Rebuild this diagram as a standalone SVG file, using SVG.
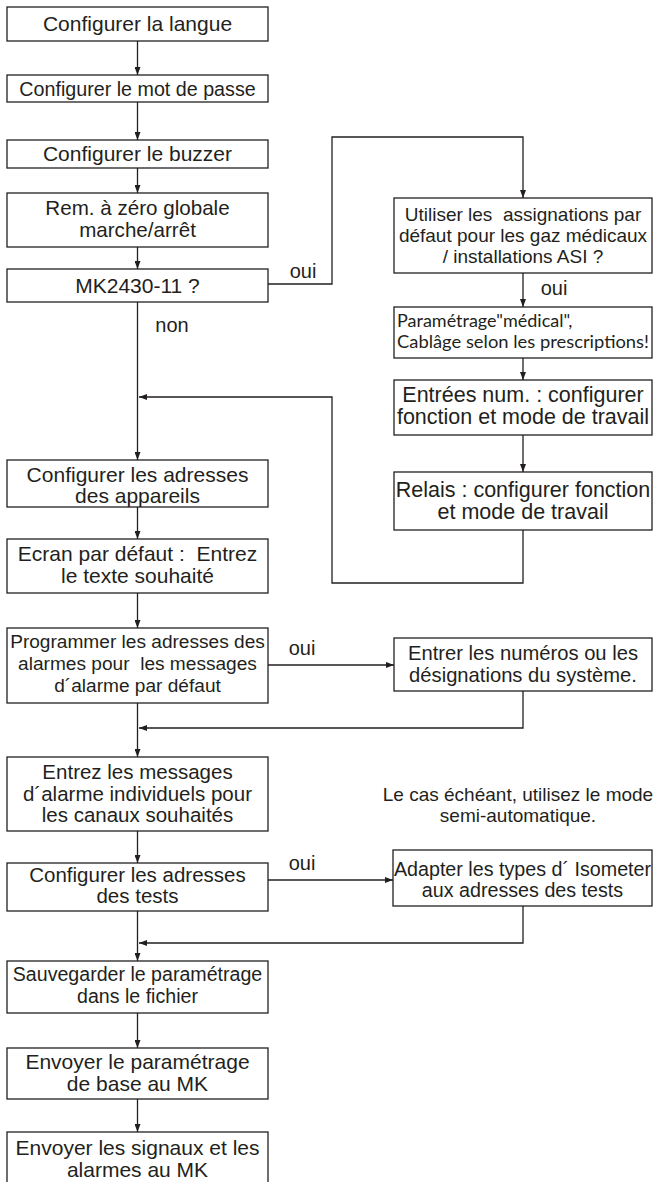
<svg xmlns="http://www.w3.org/2000/svg" width="654" height="1182" viewBox="0 0 654 1182">
<defs>
<marker id="ah" markerWidth="8" markerHeight="6" refX="8" refY="3" orient="auto" markerUnits="userSpaceOnUse">
<path d="M0,0 L8,3 L0,6 z" fill="#231f20"/>
</marker>
<style>
rect{fill:#fff;stroke:#231f20;stroke-width:1.3}
text{font-family:"Liberation Sans",Arial,sans-serif;fill:#231f20;text-anchor:middle}
.c line,.c polyline{fill:none;stroke:#231f20;stroke-width:1.3}
.a{marker-end:url(#ah)}
.lt{font-family:Lato,"Open Sans",sans-serif;text-anchor:start}
</style>
</defs>
<rect x="0" y="0" width="654" height="1182" style="fill:#fff;stroke:none"/>
<g class="c" id="connectors">
<line class="a" x1="137.5" y1="41" x2="137.5" y2="75"/>
<line class="a" x1="137.5" y1="102" x2="137.5" y2="140"/>
<line class="a" x1="137.5" y1="168" x2="137.5" y2="193"/>
<line class="a" x1="137.5" y1="247" x2="137.5" y2="269"/>
<line class="a" x1="137.5" y1="302" x2="137.5" y2="460"/>
<polyline class="a" points="268,284 332,284 332,137 523,137 523,198"/>
<line class="a" x1="523" y1="273" x2="523" y2="307"/>
<line class="a" x1="523" y1="358" x2="523" y2="380"/>
<line class="a" x1="523" y1="435" x2="523" y2="472"/>
<polyline class="a" points="523,530 523,583 332,583 332,397 139,397"/>
<line class="a" x1="137.5" y1="507" x2="137.5" y2="539"/>
<line class="a" x1="137.5" y1="593" x2="137.5" y2="628"/>
<line class="a" x1="268" y1="665" x2="394" y2="665"/>
<line class="a" x1="137.5" y1="703" x2="137.5" y2="757"/>
<polyline class="a" points="523,691 523,728 139,728"/>
<line class="a" x1="137.5" y1="831" x2="137.5" y2="863"/>
<line class="a" x1="268" y1="880" x2="393" y2="880"/>
<line class="a" x1="137.5" y1="911" x2="137.5" y2="961"/>
<polyline class="a" points="523,906 523,943 139,943"/>
<line class="a" x1="137.5" y1="1013" x2="137.5" y2="1048"/>
<line class="a" x1="137.5" y1="1099" x2="137.5" y2="1132"/>
</g>
<g id="labels">
<text x="303" y="278" font-size="20">oui</text>
<text x="554" y="295" font-size="20">oui</text>
<text x="172" y="332" font-size="20">non</text>
<text x="302" y="655" font-size="20">oui</text>
<text x="302" y="870" font-size="20">oui</text>
</g>
<g id="n1"><rect x="7" y="7" width="261" height="34"/><text x="137.5" y="31" font-size="21">Configurer la langue</text></g>
<g id="n2"><rect x="7" y="75" width="261" height="27"/><text x="137.5" y="95.5" font-size="19.7">Configurer le mot de passe</text></g>
<g id="n3"><rect x="7" y="140" width="261" height="28"/><text x="137.5" y="161" font-size="21">Configurer le buzzer</text></g>
<g id="n4"><rect x="7" y="193" width="261" height="54"/><text x="137.5" y="215" font-size="20.6">Rem. à zéro globale</text><text x="137.5" y="237" font-size="20.6">marche/arrêt</text></g>
<g id="n5"><rect x="7" y="269" width="261" height="33"/><text x="137.5" y="293" font-size="21">MK2430-11 ?</text></g>
<g id="n6"><rect x="394" y="198" width="258" height="75"/><text x="523" y="221" font-size="19" xml:space="preserve">Utiliser les  assignations par</text><text x="523" y="242" font-size="19">défaut pour les gaz médicaux</text><text x="523" y="263" font-size="19">/ installations ASI ?</text></g>
<g id="n7"><rect x="394" y="307" width="258" height="51"/><text class="lt" x="397" y="327" font-size="18">Paramétrage"médical",</text><text class="lt" x="397" y="348" font-size="18" textLength="252" lengthAdjust="spacingAndGlyphs">Cablâge selon les prescriptions!</text></g>
<g id="n8"><rect x="394" y="380" width="258" height="55"/><text x="523" y="402" font-size="21.5">Entrées num. : configurer</text><text x="523" y="424" font-size="21.5">fonction et mode de travail</text></g>
<g id="n9"><rect x="394" y="472" width="258" height="58"/><text x="523" y="497" font-size="21.5">Relais : configurer fonction</text><text x="523" y="519" font-size="21.5">et mode de travail</text></g>
<g id="n10"><rect x="7" y="460" width="261" height="47"/><text x="137.5" y="482" font-size="21">Configurer les adresses</text><text x="137.5" y="503" font-size="21">des appareils</text></g>
<g id="n11"><rect x="7" y="539" width="261" height="54"/><text x="137.5" y="561" font-size="21" xml:space="preserve">Ecran par défaut :  Entrez</text><text x="137.5" y="583" font-size="21">le texte souhaité</text></g>
<g id="n12"><rect x="7" y="628" width="261" height="75"/><text x="137.5" y="648" font-size="19.1">Programmer les adresses des</text><text x="137.5" y="670" font-size="19.1" xml:space="preserve">alarmes pour  les messages</text><text x="137.5" y="692" font-size="19.1">d´alarme par défaut</text></g>
<g id="n13"><rect x="394" y="638" width="258" height="53"/><text x="523" y="660" font-size="20.2">Entrer les numéros ou les</text><text x="523" y="682" font-size="20.2">désignations du système.</text></g>
<g id="n14"><rect x="7" y="757" width="261" height="74"/><text x="137.5" y="779" font-size="20.5">Entrez les messages</text><text x="137.5" y="801" font-size="20.5">d´alarme individuels pour</text><text x="137.5" y="822" font-size="20.5">les canaux souhaités</text></g>
<g id="note"><text x="518" y="801" font-size="19">Le cas échéant, utilisez le mode</text><text x="518" y="822" font-size="19">semi-automatique.</text></g>
<g id="n15"><rect x="7" y="863" width="261" height="48"/><text x="137.5" y="882" font-size="20.5">Configurer les adresses</text><text x="137.5" y="903" font-size="20.5">des tests</text></g>
<g id="n16"><rect x="393" y="850" width="259" height="56"/><text x="522.5" y="876" font-size="19.7">Adapter les types d´ Isometer</text><text x="522.5" y="897" font-size="19.7">aux adresses des tests</text></g>
<g id="n17"><rect x="7" y="961" width="261" height="52"/><text x="137.5" y="981" font-size="19.6">Sauvegarder le paramétrage</text><text x="137.5" y="1003" font-size="19.6">dans le fichier</text></g>
<g id="n18"><rect x="7" y="1048" width="261" height="51"/><text x="137.5" y="1069" font-size="21">Envoyer le paramétrage</text><text x="137.5" y="1091" font-size="21">de base au MK</text></g>
<g id="n19"><rect x="7" y="1132" width="261" height="60"/><text x="137.5" y="1155" font-size="21">Envoyer les signaux et les</text><text x="137.5" y="1177" font-size="21">alarmes au MK</text></g>
</svg>
